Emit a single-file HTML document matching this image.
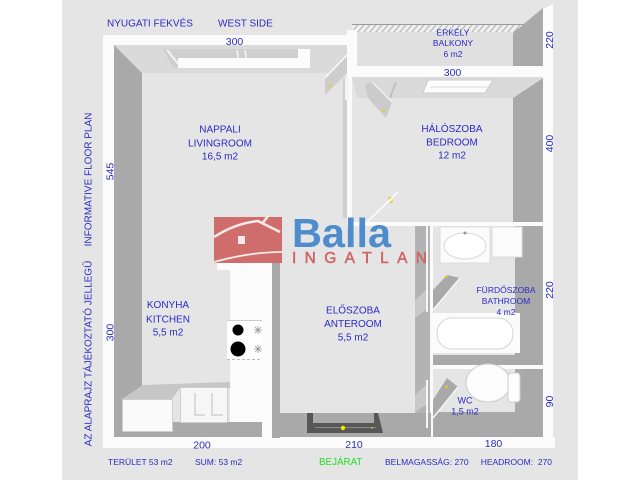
<!DOCTYPE html>
<html><head><meta charset="utf-8"><style>
html,body{margin:0;padding:0;background:#fff;}
svg{display:block}
text{font-family:"Liberation Sans",Arial,sans-serif;fill:#2b2bc4}
</style></head><body>
<svg width="640" height="480" viewBox="0 0 640 480" xmlns="http://www.w3.org/2000/svg">
<defs>
<pattern id="hatch" width="6" height="8" patternUnits="userSpaceOnUse" patternTransform="skewX(-40)">
<rect width="6" height="8" fill="#f0f0f0"/>
<rect width="1.6" height="8" fill="#b8b8b8"/>
</pattern>
</defs>
<rect x="0" y="0" width="640" height="480" fill="#fff"/>
<rect x="62" y="0" width="516" height="480" fill="#e5e5e5"/>

<!-- balcony floor & railing -->
<rect x="357" y="32" width="156" height="34" fill="#e0e0e0"/>
<rect x="352" y="24" width="173" height="8" fill="url(#hatch)"/>
<line x1="352" y1="24.5" x2="525" y2="24.5" stroke="#9a9a9a" stroke-width="1"/>

<!-- top faces -->
<polygon points="114,45 347,45 347,73 142,73" fill="#dadada"/>
<polygon points="352,77 543,77 513,98 357,98" fill="#dadada"/>

<!-- white walls -->
<g fill="#fbfbfb">
<rect x="103" y="35" width="11" height="413"/>
<rect x="103" y="35" width="254" height="10"/>
<rect x="103" y="437" width="452" height="11"/>
<rect x="347" y="30" width="10" height="47"/>
<rect x="347" y="66" width="206" height="11"/>
<rect x="347" y="77" width="5" height="149"/>
<rect x="347" y="222" width="206" height="4"/>
<rect x="217" y="263" width="55" height="7"/>
<rect x="230" y="263" width="42" height="175"/>
<rect x="430" y="226" width="3" height="212"/>
<rect x="430" y="365" width="123" height="4"/>
</g>
<rect x="343" y="78" width="4" height="140" fill="#cfcfcf"/>

<!-- dark walls -->
<g fill="#a9a9a9">
<polygon points="114,45 142,73 142,422 262,422 262,437 114,437"/>
<rect x="272" y="258" width="8" height="180"/>
<rect x="272" y="413" width="159" height="24"/>
<polygon points="513,98 543,78 543,222 513,222"/>
<polygon points="513,33 543,8 543,66 513,66"/>
<rect x="515" y="226" width="28" height="139"/>
<rect x="433" y="355" width="110" height="10"/>
<rect x="515" y="369" width="28" height="68"/>
<rect x="433" y="412" width="110" height="25"/>
</g>
<rect x="415" y="226" width="15" height="187" fill="#b3b3b3"/>
<rect x="426" y="226" width="2" height="86" fill="#f5f5f5"/>
<rect x="426" y="380" width="2" height="48" fill="#f5f5f5"/>
<polygon points="415,300 426,290 426,310 415,318" fill="#c9c9c9"/>
<polygon points="415,395 426,385 426,405 415,412" fill="#c9c9c9"/>
<polygon points="543,9 553,4 553,448 543,448" fill="#fbfbfb"/>

<!-- living room window -->
<polygon points="163,49 298,49 298,58 180,58 178,68 173,68" fill="#cfcfcf"/>
<rect x="178" y="58" width="132" height="10" fill="#fcfcfc"/>
<rect x="298" y="49" width="12" height="10" fill="#fcfcfc"/>
<line x1="167" y1="50" x2="180" y2="66" stroke="#f5f5f5" stroke-width="2"/>
<line x1="237" y1="50" x2="238" y2="58" stroke="#f5f5f5" stroke-width="1.5"/>
<line x1="245" y1="50" x2="246" y2="58" stroke="#f5f5f5" stroke-width="1.5"/>

<!-- bedroom window -->
<polygon points="428,80 493,80 485,93 423,93" fill="#fcfcfc" stroke="#cccccc" stroke-width="1"/>
<line x1="430" y1="87" x2="488" y2="87" stroke="#dddddd"/>

<!-- doors -->
<polygon points="325,78 347,55 347,73 325,95" fill="#cdcdcd"/>
<line x1="325" y1="78" x2="347" y2="55" stroke="#fafafa" stroke-width="1.5"/>
<rect x="329" y="85" width="3" height="1.5" fill="#e6d400"/>
<rect x="345" y="78" width="4" height="22" fill="#f5f5f5"/>
<polygon points="365,84 372,82 392,102 386,118 368,98" fill="#cbcbcb"/>
<line x1="372" y1="82" x2="392" y2="102" stroke="#f5f5f5" stroke-width="1.2"/>
<line x1="396" y1="82" x2="390" y2="98" stroke="#c0c0c0" stroke-width="2"/>
<rect x="382" y="110" width="3" height="1.5" fill="#e6d400"/>
<line x1="367" y1="222" x2="398" y2="192" stroke="#fafafa" stroke-width="1.8"/>
<line x1="388" y1="199" x2="391" y2="197" stroke="#e6d400" stroke-width="1.5"/>
<line x1="390" y1="203" x2="393" y2="201" stroke="#e6d400" stroke-width="1.5"/>
<polygon points="433,290 447,275 460,278 433,310" fill="#a9a9a9"/>
<line x1="433" y1="310" x2="460" y2="278" stroke="#f5f5f5" stroke-width="1.5"/>
<rect x="445" y="276" width="3" height="1.5" fill="#e6d400"/>
<polygon points="433,400 447,378 458,387 433,418" fill="#a9a9a9"/>
<line x1="433" y1="418" x2="458" y2="387" stroke="#f5f5f5" stroke-width="1.5"/>
<rect x="445" y="386" width="3" height="1.5" fill="#e6d400"/>

<!-- kitchen -->
<polygon points="122,399 143,385 230,382 230,388 180,388 172,399" fill="#c6c6c6"/>
<rect x="122.5" y="399.5" width="50" height="32" fill="#fafafa" stroke="#cfcfcf"/>
<rect x="180.5" y="387.5" width="47" height="35" fill="#f6f6f6" stroke="#cfcfcf"/>
<path d="M195,393 V415 H205 M212,393 V415 H223" fill="none" stroke="#bdbdbd" stroke-width="1"/>
<rect x="227" y="320" width="35" height="40" fill="#ffffff"/>
<line x1="227" y1="320.5" x2="262" y2="320.5" stroke="#cccccc"/>
<line x1="227" y1="359.5" x2="262" y2="359.5" stroke="#bbbbbb" stroke-dasharray="3,2"/>
<circle cx="238" cy="330" r="5.5" fill="#000"/>
<circle cx="238" cy="349" r="7.5" fill="#000"/>
<g stroke="#999" stroke-width="0.8">
<path d="M254,330 H262 M258,326 V334 M255,327 L261,333 M255,333 L261,327"/>
<path d="M254,349 H262 M258,345 V353 M255,346 L261,352 M255,352 L261,346"/>
</g>

<!-- bathroom fixtures -->
<rect x="440" y="227" width="50" height="36" fill="#fbfbfb" stroke="#dddddd"/>
<ellipse cx="465" cy="246" rx="21" ry="13" fill="#ffffff" stroke="#d8d8d8"/>
<circle cx="465" cy="233" r="1.5" fill="#999"/>
<rect x="492" y="227" width="30" height="30" fill="#fbfbfb" stroke="#dddddd"/>
<rect x="433" y="313" width="87" height="40" fill="#fbfbfb"/>
<rect x="437" y="318" width="76" height="31" rx="15" fill="#ffffff" stroke="#d4d4d4"/>
<ellipse cx="488" cy="383" rx="22" ry="19" fill="#fdfdfd" stroke="#cfcfcf"/>
<rect x="508" y="373" width="12" height="29" rx="3" fill="#fdfdfd" stroke="#cfcfcf"/>

<!-- entrance -->
<polygon points="307,413 313,413 313,423 374,423 374,413 378,413 383,433 307,433" fill="#575757"/>
<line x1="315" y1="427.5" x2="376" y2="427.5" stroke="#8a8a8a"/>
<circle cx="343" cy="428" r="2.2" fill="#f2e600"/>
<circle cx="372" cy="428" r="1" fill="#c8b800"/>

<!-- logo -->
<rect x="214" y="217" width="68" height="46" fill="#cf6d6d"/>
<path d="M214,237 Q236,223 258,221 L280,232" fill="none" stroke="#fbeaea" stroke-width="2.5"/>
<line x1="262" y1="224" x2="268" y2="216" stroke="#fbeaea" stroke-width="2.5"/>
<rect x="238" y="236" width="7" height="8" fill="#fbeaea"/>
<path d="M214,262 Q250,252 282,252" fill="none" stroke="#fbeaea" stroke-width="1.8"/>
<text x="292" y="247" font-size="41" font-weight="bold" style="fill:#4f8ccc" textLength="99" lengthAdjust="spacingAndGlyphs">Balla</text>
<text x="292" y="263" font-size="15.5" style="fill:#d06565;stroke:#d06565;stroke-width:0.5" textLength="135" lengthAdjust="spacing">INGATLAN</text>

<!-- labels -->
<g font-size="10">
<text x="107" y="26.6">NYUGATI FEKVÉS</text>
<text x="218" y="26.6">WEST SIDE</text>
<text x="234.5" y="44.8" text-anchor="middle" font-size="10.5">300</text>
<text x="220" y="132.6" text-anchor="middle">NAPPALI</text>
<text x="220" y="146.6" text-anchor="middle">LIVINGROOM</text>
<text x="220" y="159.6" text-anchor="middle">16,5 m2</text>
<text x="168" y="308" text-anchor="middle">KONYHA</text>
<text x="168" y="322.5" text-anchor="middle">KITCHEN</text>
<text x="168" y="335.5" text-anchor="middle">5,5 m2</text>
<text x="452" y="132" text-anchor="middle">HÁLÓSZOBA</text>
<text x="452" y="145.5" text-anchor="middle">BEDROOM</text>
<text x="452" y="158.5" text-anchor="middle">12 m2</text>
<text x="353" y="313.5" text-anchor="middle">ELŐSZOBA</text>
<text x="353" y="327" text-anchor="middle">ANTEROOM</text>
<text x="353" y="340.5" text-anchor="middle">5,5 m2</text>
<text x="452.5" y="76" text-anchor="middle" font-size="10.5">300</text>
<text x="202" y="448.5" text-anchor="middle" font-size="10.5">200</text>
<text x="354" y="448" text-anchor="middle" font-size="10.5">210</text>
<text x="493.5" y="447" text-anchor="middle" font-size="10.5">180</text>
</g>
<g font-size="8.5">
<text x="453" y="35.5" text-anchor="middle">ERKÉLY</text>
<text x="453" y="46" text-anchor="middle">BALKONY</text>
<text x="453" y="57" text-anchor="middle">6 m2</text>
<text x="506" y="293" text-anchor="middle">FÜRDŐSZOBA</text>
<text x="506" y="304" text-anchor="middle">BATHROOM</text>
<text x="506" y="315" text-anchor="middle">4 m2</text>
<text x="108" y="465">TERÜLET 53 m2</text>
<text x="195" y="465">SUM: 53 m2</text>
<text x="385" y="465">BELMAGASSÁG: 270</text>
<text x="480.7" y="465" xml:space="preserve">HEADROOM:  270</text>
</g>
<g font-size="9">
<text x="465" y="403.5" text-anchor="middle">WC</text>
<text x="465" y="414.5" text-anchor="middle">1,5 m2</text>
</g>
<text x="319" y="465" font-size="9.8" style="fill:#22dd22">BEJÁRAT</text>

<!-- rotated labels -->
<g font-size="10.5" text-anchor="middle">
<text transform="translate(113.3,171.5) rotate(-90)">545</text>
<text transform="translate(113.3,332.5) rotate(-90)">300</text>
<text transform="translate(552.8,40) rotate(-90)">220</text>
<text transform="translate(552.8,143.5) rotate(-90)">400</text>
<text transform="translate(552.8,290) rotate(-90)">220</text>
<text transform="translate(552.8,401.5) rotate(-90)">90</text>
</g>
<g font-size="10" text-anchor="middle">
<text transform="translate(91.6,179.5) rotate(-90)">INFORMATIVE FLOOR PLAN</text>
<text transform="translate(91.6,353.5) rotate(-90)">AZ ALAPRAJZ TÁJÉKOZTATÓ JELLEGŰ</text>
</g>
</svg>
</body></html>
